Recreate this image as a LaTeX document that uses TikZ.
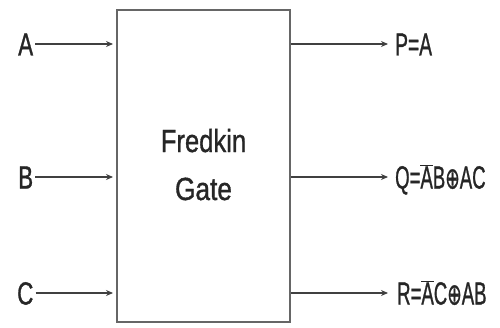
\documentclass[tikz,border=0pt]{standalone}
\usepackage{fontspec}
\usepackage{graphicx}
\setmainfont{Liberation Sans}
\newfontfamily\heavyfont{Liberation Sans}[FakeBold=1.2]
\newfontfamily\symfont{DejaVu Sans}[FakeBold=1.2]
\usetikzlibrary{arrows.meta}
\newcommand{\sqz}[2]{\scalebox{#1}[1]{#2}}
\newcommand{\nb}[1]{$\overline{\mbox{#1}}$}
\newcommand{\xo}{{\symfont\fontsize{30}{30}\selectfont ⊕}}
\tikzset{
  lbl/.style={inner sep=0pt, anchor=base west, text=black!85, font=\heavyfont\fontsize{32}{32}\selectfont},
  ttl/.style={inner sep=0pt, anchor=base, text=black!85, font=\heavyfont\fontsize{32}{32}\selectfont},
  arr/.style={draw=black!75, line width=1.8pt, -{Stealth[length=7pt,width=6pt]}},
  gatebox/.style={draw=black!60, line width=2pt, minimum width=173pt, minimum height=312pt, inner sep=0pt}
}
\begin{document}
\begin{tikzpicture}[x=1pt,y=1pt]
\useasboundingbox (0,0) rectangle (500,327);
\node[gatebox] (gate) at (203.5,161) {};
\node[ttl] (t1) at (203.5,175) {\sqz{0.8}{Fredkin}};
\node[ttl] (t2) at (203.5,127) {\sqz{0.82}{Gate}};
% inputs
\node[lbl] (inA) at (18,271.5) {\sqz{0.7}{A}};
\node[lbl] (inB) at (18,138.5) {\sqz{0.7}{B}};
\node[lbl] (inC) at (17,22.5) {\sqz{0.7}{C}};
\coordinate (rA) at (0,283);
\coordinate (rB) at (0,150);
\coordinate (rC) at (0,34);
\draw[arr, shorten <=2pt, shorten >=3pt] (inA.east |- rA) -- (gate.west |- rA);
\draw[arr, shorten <=2pt, shorten >=3pt] (inB.east |- rB) -- (gate.west |- rB);
\draw[arr, shorten <=2pt, shorten >=3pt] (inC.east |- rC) -- (gate.west |- rC);
% outputs
\node[lbl] (outP) at (395,271.5) {\sqz{0.6}{P=A}};
\node[lbl] (outQ) at (395,138.5) {\sqz{0.58}{Q=\nb{A}B\xo AC}};
\node[lbl] (outR) at (397,22.5) {\sqz{0.58}{R=\nb{A}C\xo AB}};
\draw[arr, shorten >=7pt] (gate.east |- rA) -- (outP.west |- rA);
\draw[arr, shorten >=7pt] (gate.east |- rB) -- (outQ.west |- rB);
\draw[arr, shorten >=9pt] (gate.east |- rC) -- (outR.west |- rC);
\end{tikzpicture}
\end{document}
